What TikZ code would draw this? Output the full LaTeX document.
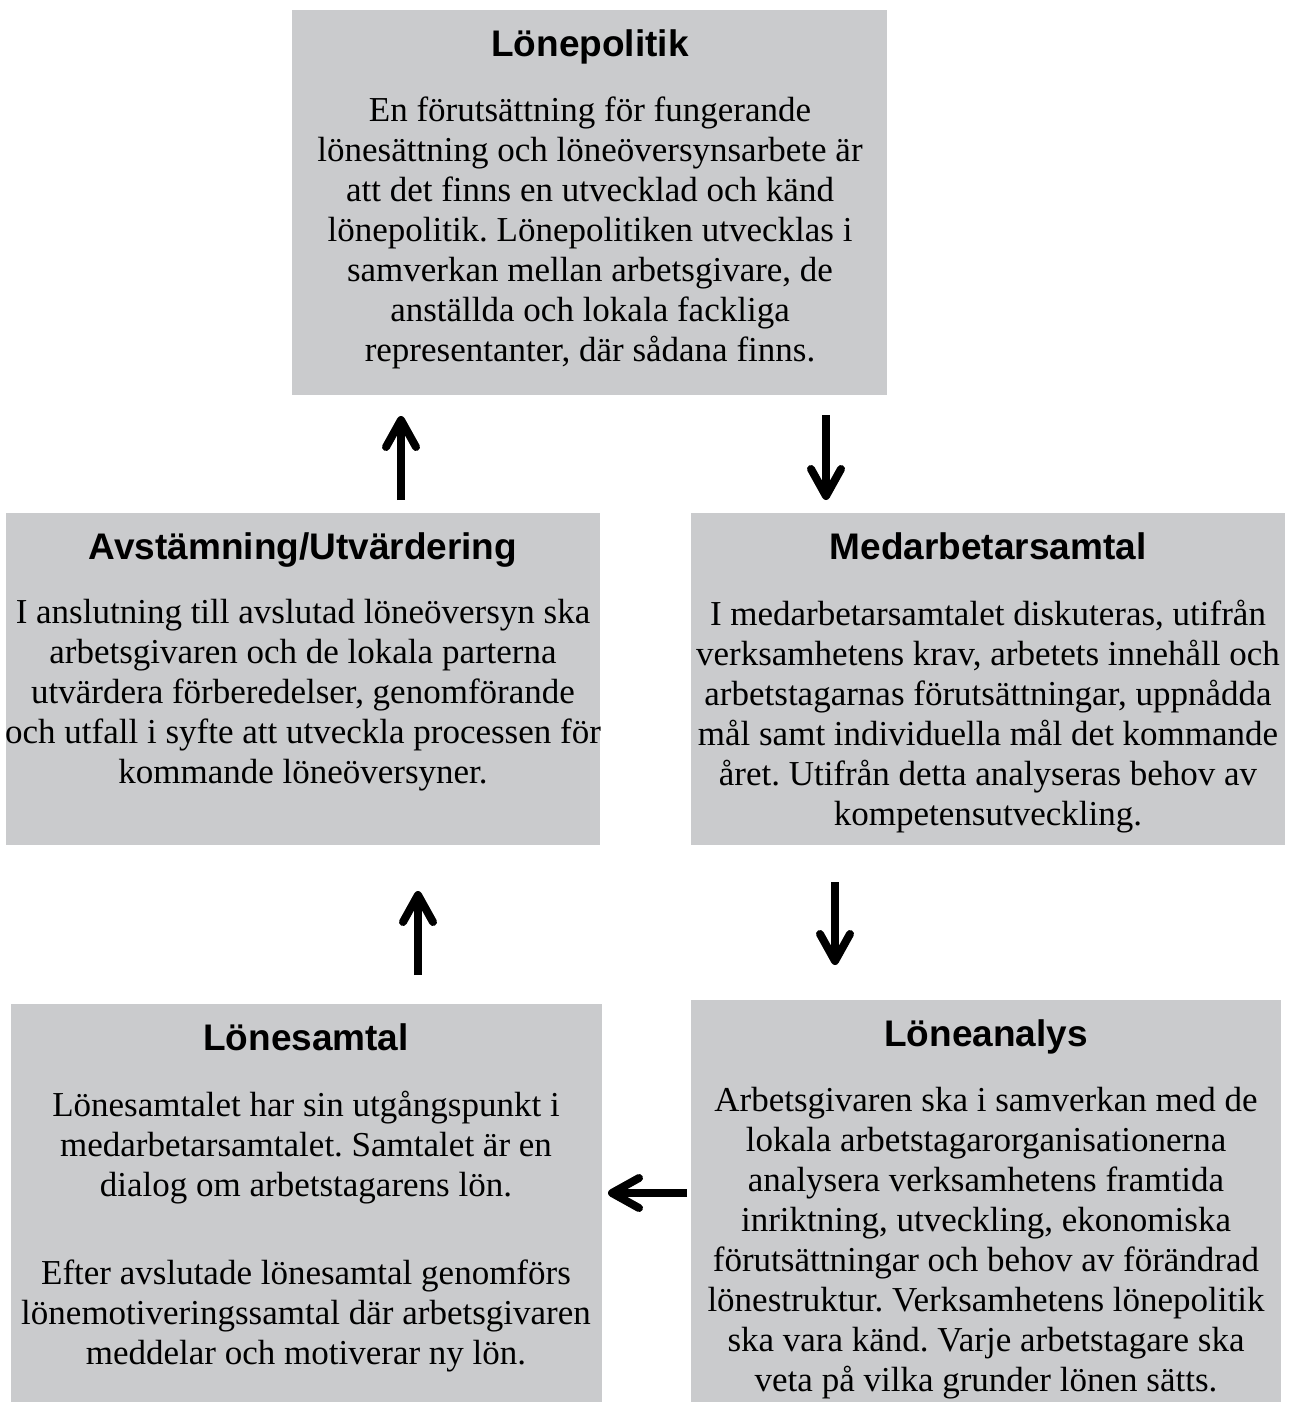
\documentclass[tikz,border=0pt]{standalone}
\usepackage{fontspec}
\setmainfont{Liberation Serif}
\newfontfamily\titlefont{Liberation Sans}
\definecolor{boxgray}{HTML}{CACBCD}
\frenchspacing
\begin{document}
\begin{tikzpicture}[x=1pt,y=-1pt,
  box/.style={fill=boxgray,draw=none,inner sep=0pt,anchor=north west},
  ttl/.style={font=\titlefont\bfseries\fontsize{37}{42}\selectfont,anchor=base,inner sep=0pt},
  body/.style={font=\fontsize{35}{40}\selectfont,align=center,anchor=north,inner sep=0pt},
  shaft/.style={line width=8pt},
  head/.style={line width=8pt,line cap=round,line join=round}]
\useasboundingbox (0,0) rectangle (1297,1402);
% boxes
\node[box,minimum width=595pt,minimum height=385pt] (lp) at (292,10) {};
\node[box,minimum width=594pt,minimum height=332pt] (av) at (6,513) {};
\node[box,minimum width=594pt,minimum height=332pt] (ms) at (691,513) {};
\node[box,minimum width=591pt,minimum height=398pt] (ls) at (11,1004) {};
\node[box,minimum width=590pt,minimum height=402pt] (la) at (691,1000) {};
% titles
\node[ttl] (lpt) at (590,57) {Lönepolitik};
\node[ttl] (avt) at (303,559) {Avstämning/Utvärdering};
\node[ttl] (mst) at (988,559) {Medarbetarsamtal};
\node[ttl] (lst) at (306,1050) {Lönesamtal};
\node[ttl] (lat) at (986,1046) {Löneanalys};
% bodies
\node[body] (lpb) at (590,97) {En förutsättning för fungerande\\
lönesättning och löneöversynsarbete är\\
att det finns en utvecklad och känd\\
lönepolitik. Lönepolitiken utvecklas i\\
samverkan mellan arbetsgivare, de\\
anställda och lokala fackliga\\
representanter, där sådana finns.};
\node[body] (avb) at (303,599) {I anslutning till avslutad löneöversyn ska\\
arbetsgivaren och de lokala parterna\\
utvärdera förberedelser, genomförande\\
och utfall i syfte att utveckla processen för\\
kommande löneöversyner.};
\node[body] (msb) at (988,600) {I medarbetarsamtalet diskuteras, utifrån\\
verksamhetens krav, arbetets innehåll och\\
arbetstagarnas förutsättningar, uppnådda\\
mål samt individuella mål det kommande\\
året. Utifrån detta analyseras behov av\\
kompetensutveckling.};
\node[body] (lsb) at (306,1091) {Lönesamtalet har sin utgångspunkt i\\
medarbetarsamtalet. Samtalet är en\\
dialog om arbetstagarens lön.\\[48pt]
Efter avslutade lönesamtal genomförs\\
lönemotiveringssamtal där arbetsgivaren\\
meddelar och motiverar ny lön.};
\node[body] (lab) at (986,1087) {Arbetsgivaren ska i samverkan med de\\
lokala arbetstagarorganisationerna\\
analysera verksamhetens framtida\\
inriktning, utveckling, ekonomiska\\
förutsättningar och behov av förändrad\\
lönestruktur. Verksamhetens lönepolitik\\
ska vara känd. Varje arbetstagare ska\\
veta på vilka grunder lönen sätts.};
% arrows
\coordinate (a1s) at (401,500); \coordinate (a1e) at (401,420);
\coordinate (a2s) at (826,415); \coordinate (a2e) at (826,496);
\coordinate (a3s) at (835,882); \coordinate (a3e) at (835,961);
\coordinate (a4s) at (418,975); \coordinate (a4e) at (418,895);
\coordinate (a5s) at (687,1193); \coordinate (a5e) at (612,1193);
\draw[shaft] (a1s) -- (a1e);
\draw[head] (a1e) ++(-15,27) -- (a1e) -- ++(15,27);
\draw[shaft] (a2s) -- (a2e);
\draw[head] (a2e) ++(-15,-27) -- (a2e) -- ++(15,-27);
\draw[shaft] (a3s) -- (a3e);
\draw[head] (a3e) ++(-15,-27) -- (a3e) -- ++(15,-27);
\draw[shaft] (a4s) -- (a4e);
\draw[head] (a4e) ++(-15,27) -- (a4e) -- ++(15,27);
\draw[shaft] (a5s) -- (a5e);
\draw[head] (a5e) ++(27,-15) -- (a5e) -- ++(27,15);
\end{tikzpicture}
\end{document}
